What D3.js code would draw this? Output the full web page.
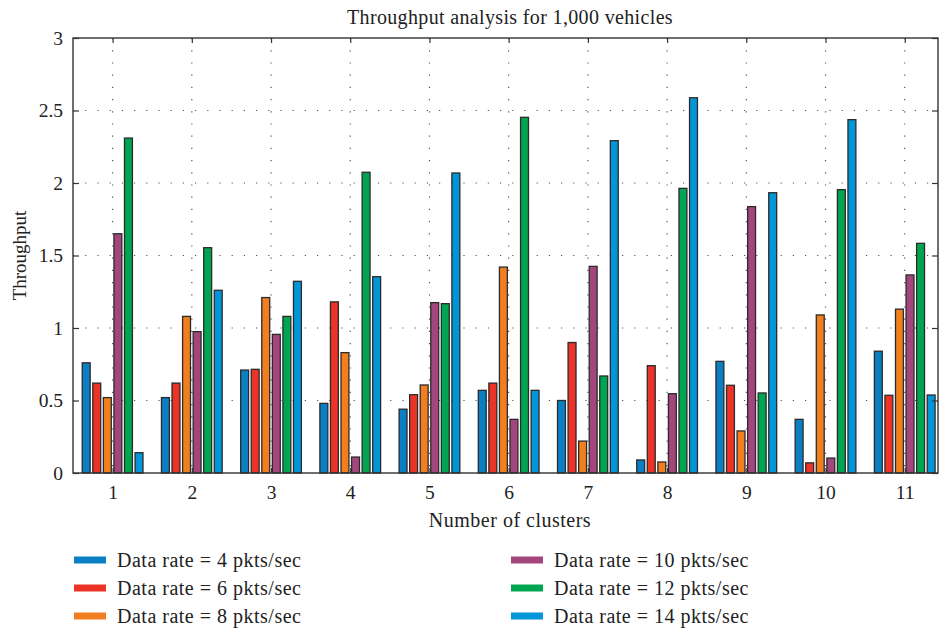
<!DOCTYPE html>
<html>
<head>
<meta charset="utf-8">
<script src="https://cdn.jsdelivr.net/npm/d3@7/dist/d3.min.js"></script>
<style>
  html, body { margin: 0; padding: 0; background: #fff; }
</style>
</head>
<body>
<svg id="chart" width="941" height="629"></svg>
<script>
// Throughput per number of clusters, one series per data rate
const clusters = [1, 2, 3, 4, 5, 6, 7, 8, 9, 10, 11];
const seriesNames = [
  "Data rate = 4 pkts/sec",
  "Data rate = 6 pkts/sec",
  "Data rate = 8 pkts/sec",
  "Data rate = 10 pkts/sec",
  "Data rate = 12 pkts/sec",
  "Data rate = 14 pkts/sec"
];
const rate4  = [0.76, 0.52, 0.71, 0.48, 0.44, 0.57, 0.50, 0.09, 0.77, 0.37, 0.84];
const rate6  = [0.62, 0.62, 0.715, 1.18, 0.54, 0.62, 0.90, 0.74, 0.605, 0.07, 0.536];
const rate8  = [0.52, 1.08, 1.21, 0.83, 0.607, 1.42, 0.22, 0.076, 0.29, 1.09, 1.13];
const rate10 = [1.65, 0.975, 0.956, 0.11, 1.175, 0.37, 1.425, 0.547, 1.837, 0.103, 1.366];
const rate12 = [2.31, 1.554, 1.08, 2.074, 1.168, 2.453, 0.669, 1.963, 0.552, 1.954, 1.584];
const rate14 = [0.14, 1.26, 1.322, 1.354, 2.069, 0.57, 2.292, 2.588, 1.933, 2.437, 0.538];
const seriesValues = [rate4, rate6, rate8, rate10, rate12, rate14];
const seriesColors = ["#0a7fc4", "#ec3327", "#f27f1f", "#a4467e", "#00a551", "#0096d8"];
const yTicks = [0, 0.5, 1, 1.5, 2, 2.5, 3];
const yTickLabels = ["0", "0.5", "1", "1.5", "2", "2.5", "3"];

const serif = "'Liberation Serif', 'Times New Roman', serif";
const textColor = "#222";

const svg = d3.select("#chart");
const plotLeft = 73, plotRight = 938, plotTop = 38, plotBottom = 473;

const x = d3.scaleLinear().domain([0.5, 11.42]).range([plotLeft, plotRight]);
const y = d3.scaleLinear().domain([0, 3]).range([plotBottom, plotTop]);

const groupWidth = 0.8;
const step = groupWidth / seriesValues.length;
const barWidth = 0.1;

const axisColor = "#333";

// dotted grid
const grid = svg.append("g");
grid.selectAll("line.v").data(clusters).join("line")
  .attr("x1", d => x(d)).attr("x2", d => x(d))
  .attr("y1", plotTop).attr("y2", plotBottom)
  .attr("stroke", "#555").attr("stroke-width", 1.2)
  .attr("stroke-dasharray", "1.2,11");
grid.selectAll("line.h").data(yTicks.slice(1, -1)).join("line")
  .attr("x1", plotLeft).attr("x2", plotRight)
  .attr("y1", d => y(d)).attr("y2", d => y(d))
  .attr("stroke", "#555").attr("stroke-width", 1.2)
  .attr("stroke-dasharray", "1.2,11");

// bars
const bars = svg.append("g");
seriesValues.forEach((vals, si) => {
  bars.append("g").selectAll("rect").data(vals).join("rect")
    .attr("x", (d, i) => x(clusters[i] + (si - 2.5) * step - barWidth / 2))
    .attr("width", x(barWidth) - x(0))
    .attr("y", d => y(d))
    .attr("height", d => y(0) - y(d))
    .attr("fill", seriesColors[si])
    .attr("stroke", "#2b2b2b")
    .attr("stroke-width", 1.3);
});

// axes (box with inward ticks)
const axisG = svg.append("g");
const xAxisB = d3.axisBottom(x).tickValues(clusters).tickSize(-5).tickPadding(12).tickFormat(d3.format("d"));
const xAxisT = d3.axisTop(x).tickValues(clusters).tickSize(-5).tickFormat("");
const yAxisL = d3.axisLeft(y).tickValues(yTicks).tickSize(-6).tickPadding(10).tickFormat((d, i) => yTickLabels[i]);
const yAxisR = d3.axisRight(y).tickValues(yTicks).tickSize(-6).tickFormat("");

function styleAxis(g) {
  g.attr("font-family", serif).attr("font-size", 19.5);
  g.select(".domain").remove();
  g.selectAll(".tick line").attr("stroke", axisColor).attr("stroke-width", 1.2);
  g.selectAll(".tick text").attr("fill", textColor);
}
axisG.append("g").attr("transform", `translate(0,${plotBottom})`).call(xAxisB).call(styleAxis);
axisG.append("g").attr("transform", `translate(0,${plotTop})`).call(xAxisT).call(styleAxis);
axisG.append("g").attr("transform", `translate(${plotLeft},0)`).call(yAxisL).call(styleAxis);
axisG.append("g").attr("transform", `translate(${plotRight},0)`).call(yAxisR).call(styleAxis);

axisG.append("rect")
  .attr("x", plotLeft).attr("y", plotTop)
  .attr("width", plotRight - plotLeft).attr("height", plotBottom - plotTop)
  .attr("fill", "none").attr("stroke", axisColor).attr("stroke-width", 1.4);

// titles
svg.append("text")
  .attr("x", 510).attr("y", 24)
  .attr("text-anchor", "middle")
  .attr("font-family", serif).attr("font-size", 20).attr("fill", textColor)
  .attr("letter-spacing", 0.35)
  .text("Throughput analysis for 1,000 vehicles");

svg.append("text")
  .attr("x", 510).attr("y", 527)
  .attr("text-anchor", "middle")
  .attr("font-family", serif).attr("font-size", 20).attr("fill", textColor)
  .attr("letter-spacing", 0.5)
  .text("Number of clusters");

svg.append("text")
  .attr("transform", `translate(26,${(plotTop + plotBottom) / 2}) rotate(-90)`)
  .attr("text-anchor", "middle")
  .attr("font-family", serif).attr("font-size", 19).attr("fill", textColor)
  .text("Throughput");

// legend: two columns of three
const legend = svg.append("g");
seriesNames.forEach((name, i) => {
  const col = Math.floor(i / 3), row = i % 3;
  const lx = col === 0 ? 74 : 511;
  const ly = 560 + row * 28;
  legend.append("rect")
    .attr("x", lx).attr("y", ly - 3.5)
    .attr("width", 32).attr("height", 7)
    .attr("fill", seriesColors[i]);
  legend.append("text")
    .attr("x", lx + 43).attr("y", ly + 6.5)
    .attr("font-family", serif).attr("font-size", 20).attr("fill", textColor)
    .attr("letter-spacing", 0.5)
    .text(name);
});
</script>
</body>
</html>
